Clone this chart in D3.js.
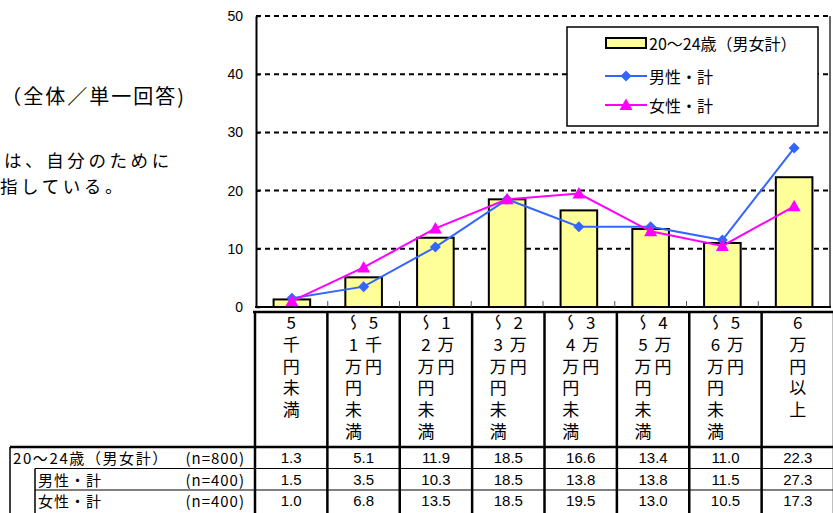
<!DOCTYPE html>
<html><head><meta charset="utf-8">
<script src="https://cdn.jsdelivr.net/npm/d3@7"></script>
<style>body{margin:0;background:#fff;} svg{display:block;}</style>
</head><body>
<svg id="c" width="833" height="513"></svg>
<script>
// ---- data ----
const categories = ["5千円未満","5千円～1万円未満","1万円～2万円未満","2万円～3万円未満","3万円～4万円未満","4万円～5万円未満","5万円～6万円未満","6万円以上"];
const totalValues  = [1.3, 5.1, 11.9, 18.5, 16.6, 13.4, 11.0, 22.3];
const maleValues   = [1.5, 3.5, 10.3, 18.5, 13.8, 13.8, 11.5, 27.3];
const femaleValues = [1.0, 6.8, 13.5, 18.5, 19.5, 13.0, 10.5, 17.3];
const seriesNames  = ["20～24歳（男女計）", "男性・計", "女性・計"];
const sampleSizes  = ["(n=800)", "(n=400)", "(n=400)"];
const yTicks = [0, 10, 20, 30, 40, 50];
const noteTitle = "（全体／単一回答)";
const noteLines = ["は、自分のために", "指している。"];

// ---- styles ----
const BLUE = "#3366ff", MAG = "#ff00ff", YEL = "#ffff99";
const JP = "'Noto Sans CJK JP', sans-serif";
const LAT = "'Liberation Sans', Arial, sans-serif";

const svg = d3.select("#c");
const x = d3.scaleBand().domain(categories).range([256, 830]);
const y = d3.scaleLinear().domain([0, 50]).range([307, 16]);
const xt = d3.scaleBand().domain(categories).range([255, 834]);

// notes on the left
svg.append("text").attr("x", 186).attr("y", 95).attr("text-anchor", "end")
  .attr("dominant-baseline", "central").style("font-family", JP).style("font-size", "20px")
  .style("letter-spacing", "2px").text(noteTitle);
noteLines.forEach((t, i) => {
  svg.append("text").attr("x", i === 0 ? 4 : 0).attr("y", 159 + i * 26)
    .attr("dominant-baseline", "central").style("font-family", JP).style("font-size", "17.5px")
    .style("letter-spacing", "3.6px").text(t);
});

// gridlines
svg.append("g").selectAll("line").data(yTicks.filter(d => d > 0)).join("line")
  .attr("x1", 256).attr("x2", 830).attr("y1", d => y(d)).attr("y2", d => y(d))
  .attr("stroke", "#000").attr("stroke-width", 2).attr("stroke-dasharray", "5,4");

// y axis
const yAxis = svg.append("g").attr("transform", "translate(256,0)")
  .call(d3.axisLeft(y).tickValues(yTicks).tickSizeInner(-4).tickSizeOuter(0).tickPadding(13));
yAxis.select(".domain").attr("stroke", "#000").attr("stroke-width", 2);
yAxis.selectAll(".tick line").attr("stroke", "#000").attr("stroke-width", 1.5);
yAxis.selectAll("text").style("font-family", LAT).style("font-size", "14px").attr("fill", "#000");

// right border
svg.append("line").attr("x1", 830).attr("x2", 830).attr("y1", y(50)).attr("y2", y(0))
  .attr("stroke", "#333").attr("stroke-width", 1.5);

// bars
const bw = x.bandwidth(), barW = bw * 0.51;
svg.append("g").selectAll("rect").data(categories).join("rect")
  .attr("x", (d) => x(d) + (bw - barW) / 2).attr("width", barW)
  .attr("y", (d, i) => y(totalValues[i])).attr("height", (d, i) => y(0) - y(totalValues[i]))
  .attr("fill", YEL).attr("stroke", "#000").attr("stroke-width", 2);

// x axis baseline and ticks
svg.append("line").attr("x1", 255).attr("x2", 831).attr("y1", y(0)).attr("y2", y(0))
  .attr("stroke", "#000").attr("stroke-width", 2);
svg.append("g").selectAll("line").data(categories.slice(1)).join("line")
  .attr("x1", d => x(d)).attr("x2", d => x(d)).attr("y1", y(0)).attr("y2", y(0) - 6)
  .attr("stroke", "#555").attr("stroke-width", 1);

// lines
const cx = (d) => x(d) + bw / 2;
const line = d3.line().x(d => cx(d[0])).y(d => y(d[1]));
const diamond = "M0,-5.5L5.5,0L0,5.5L-5.5,0Z";
const triangle = "M0,-6.5L6.5,5L-6.5,5Z";
function drawSeries(vals, color, shape) {
  const pts = categories.map((c, i) => [c, vals[i]]);
  svg.append("path").datum(pts).attr("d", line).attr("fill", "none").attr("stroke", color).attr("stroke-width", 2);
  svg.append("g").selectAll("path").data(pts).join("path")
    .attr("d", shape).attr("transform", d => `translate(${cx(d[0])},${y(d[1])})`).attr("fill", color);
}
drawSeries(maleValues, BLUE, diamond);
drawSeries(femaleValues, MAG, triangle);

// legend
const lg = svg.append("g");
lg.append("rect").attr("x", 567).attr("y", 27).attr("width", 251).attr("height", 99)
  .attr("fill", "#fff").attr("stroke", "#000").attr("stroke-width", 1.5);
lg.append("rect").attr("x", 606).attr("y", 38).attr("width", 40).attr("height", 10)
  .attr("fill", YEL).attr("stroke", "#000").attr("stroke-width", 2);
[[BLUE, diamond, 76], [MAG, triangle, 105]].forEach(([c, s, yy]) => {
  lg.append("line").attr("x1", 605).attr("x2", 647).attr("y1", yy).attr("y2", yy).attr("stroke", c).attr("stroke-width", 2);
  lg.append("path").attr("d", s).attr("transform", `translate(626,${yy})`).attr("fill", c);
});
seriesNames.forEach((n, i) => {
  lg.append("text").attr("x", 649).attr("y", [43, 76, 105][i]).attr("dominant-baseline", "central")
    .style("font-family", JP).style("font-size", "16px").text(n);
});

// table header (vertical category labels)
const tg = svg.append("g");
const colLines = categories.map(c => xt(c)).concat([xt.range()[1]]);
tg.append("line").attr("x1", 253).attr("x2", 834).attr("y1", 312).attr("y2", 312).attr("stroke", "#000").attr("stroke-width", 2.5);
tg.append("line").attr("x1", 10).attr("x2", 834).attr("y1", 447).attr("y2", 447).attr("stroke", "#000").attr("stroke-width", 2.5);
tg.selectAll(".vl").data(colLines).join("line")
  .attr("x1", d => d).attr("x2", d => d).attr("y1", 312).attr("y2", 513)
  .attr("stroke", "#000").attr("stroke-width", 2.5);

const vFont = 17, rowPitch = 21.8, vTop = 314;
function verticalColumn(xx, str) {
  Array.from(str).forEach((ch, k) => {
    tg.append("text").attr("x", xx).attr("y", vTop + k * rowPitch)
      .style("writing-mode", "vertical-rl").style("text-orientation", "upright")
      .style("font-family", JP).style("font-size", vFont + "px").text(ch);
  });
}
categories.forEach(c => {
  const cc = xt(c) + xt.bandwidth() / 2;
  if (c.includes("～")) {
    const [a, b] = c.split("～");
    verticalColumn(cc + 10, a);
    verticalColumn(cc - 10, "～" + b);
  } else {
    verticalColumn(cc, c);
  }
});

// data rows
const rowTop = 447, rowH = 21.5;
const allVals = [totalValues, maleValues, femaleValues];
tg.append("line").attr("x1", 10).attr("x2", 10).attr("y1", 447).attr("y2", 513).attr("stroke", "#000").attr("stroke-width", 1.5);
tg.append("line").attr("x1", 35).attr("x2", 35).attr("y1", rowTop + rowH).attr("y2", 513).attr("stroke", "#000").attr("stroke-width", 1.5);
[1, 2].forEach(r => {
  tg.append("line").attr("x1", 35).attr("x2", 834).attr("y1", rowTop + r * rowH).attr("y2", rowTop + r * rowH)
    .attr("stroke", "#000").attr("stroke-width", 1);
});
const fmt = d3.format(".1f");
allVals.forEach((vals, r) => {
  const cy = rowTop + r * rowH + rowH / 2;
  tg.append("text").attr("x", r === 0 ? 13 : 38).attr("y", cy).attr("dominant-baseline", "central")
    .style("font-family", JP).style("font-size", "15px").style("letter-spacing", r === 0 ? "1.6px" : "1px").text(seriesNames[r]);
  tg.append("text").attr("x", 245).attr("y", cy).attr("text-anchor", "end").attr("dominant-baseline", "central")
    .style("font-family", JP).style("font-size", "15px").style("letter-spacing", "1px").text(sampleSizes[r]);
  vals.forEach((v, i) => {
    tg.append("text").attr("x", xt(categories[i]) + xt.bandwidth() / 2).attr("y", cy)
      .attr("text-anchor", "middle").attr("dominant-baseline", "central")
      .style("font-family", LAT).style("font-size", "15px").text(fmt(v));
  });
});
</script>
</body></html>
